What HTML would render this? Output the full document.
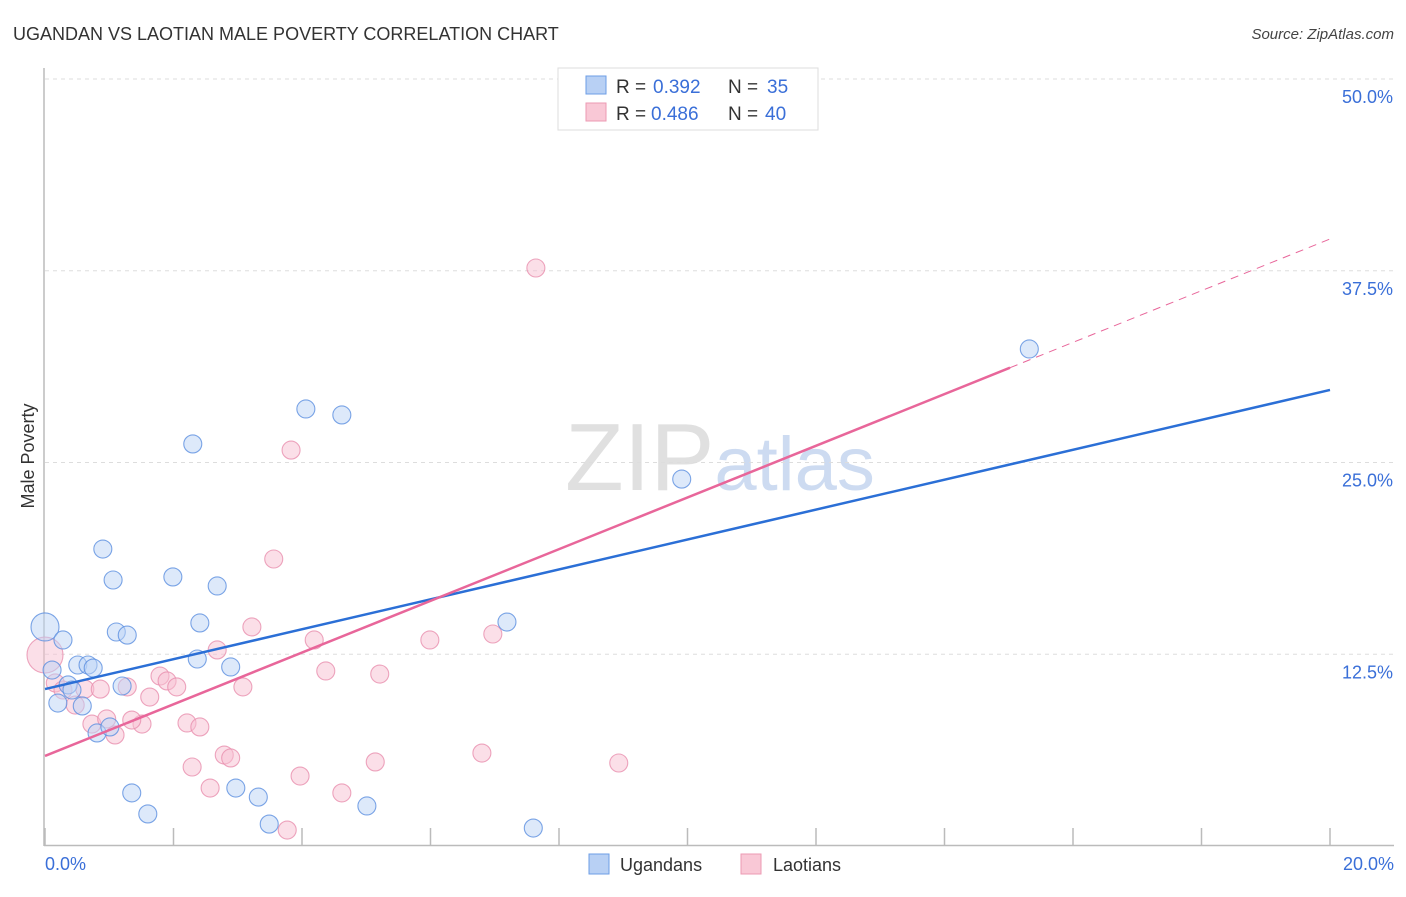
<!DOCTYPE html>
<html><head><meta charset="utf-8">
<style>
body{margin:0;background:#fff;font-family:"Liberation Sans",sans-serif;}
svg text{font-family:"Liberation Sans",sans-serif;}
</style></head>
<body>
<svg id="chart" width="1406" height="892" viewBox="0 0 1406 892" xmlns="http://www.w3.org/2000/svg">
<text x="13" y="40" font-size="18" fill="#333">UGANDAN VS LAOTIAN MALE POVERTY CORRELATION CHART</text>
<text x="1394" y="39" font-size="15" fill="#444" text-anchor="end" font-style="italic">Source: ZipAtlas.com</text>
<text x="720" y="490" font-size="96" text-anchor="middle" fill="#ddd" font-family="Liberation Serif" opacity="0.9">ZIP<tspan fill="#c8d8f0" font-family="Liberation Sans" font-size="76">atlas</tspan></text>
<g id="grid"></g>
<g id="axes"></g>
<g id="points"></g>
<g id="trends"></g>
<text transform="translate(34,456) rotate(-90)" font-size="18" fill="#333" text-anchor="middle">Male Poverty</text>
<text x="45" y="870" font-size="18" fill="#3a6fd8">0.0%</text>
<text x="1394" y="870" font-size="18" fill="#3a6fd8" text-anchor="end">20.0%</text>
<g>
<rect x="558" y="68" width="260" height="62" fill="#fff" stroke="#ddd"/>
<rect x="586" y="76" width="20" height="18" fill="#b8d0f4" stroke="#6d9ee6"/>
<rect x="586" y="103" width="20" height="18" fill="#f9c8d6" stroke="#ec9ab3"/>
<text x="616" y="93" font-size="19" fill="#333">R =</text>
<text x="653" y="93" font-size="19" fill="#3a6fd8">0.392</text>
<text x="728" y="93" font-size="19" fill="#333">N =</text>
<text x="767" y="93" font-size="19" fill="#3a6fd8">35</text>
<text x="616" y="120" font-size="19" fill="#333">R =</text>
<text x="651" y="120" font-size="19" fill="#3a6fd8">0.486</text>
<text x="728" y="120" font-size="19" fill="#333">N =</text>
<text x="765" y="120" font-size="19" fill="#3a6fd8">40</text>
</g>
<g>
<rect x="589" y="854" width="20" height="20" fill="#b8d0f4" stroke="#6d9ee6"/>
<text x="620" y="871" font-size="18" fill="#333">Ugandans</text>
<rect x="741" y="854" width="20" height="20" fill="#f9c8d6" stroke="#ec9ab3"/>
<text x="773" y="871" font-size="18" fill="#333">Laotians</text>
</g>
</svg>
<script>
const yTicks=[12.5,25,37.5,50];
const yTickLabels=["12.5%","25.0%","37.5%","50.0%"];
const xTicks=[0,2,4,6,8,10,12,14,16,18,20];
const ugX=[0,0.11,0.28,0.51,0.67,0.75,0.36,0.42,0.20,0.58,0.81,1.01,1.20,1.11,1.28,0.90,1.06,1.99,2.41,2.68,2.37,2.89,2.30,4.06,4.62,9.91,7.19,15.32,1.35,1.60,2.97,3.32,3.49,5.01,7.60];
const ugY=[14.28,11.47,13.43,11.80,11.80,11.60,10.50,10.17,9.32,9.13,7.37,7.76,10.43,13.95,13.75,19.36,17.34,17.54,14.54,16.95,12.19,11.67,26.21,28.49,28.10,23.92,14.60,32.40,3.46,2.09,3.78,3.19,1.43,2.61,1.17];
const laX=[0,0.16,0.28,0.47,0.62,0.86,0.73,0.96,1.09,1.28,1.51,1.35,1.63,1.79,1.90,2.05,2.21,2.41,2.68,2.79,2.89,3.08,3.22,3.56,3.83,4.19,4.37,5.21,5.99,6.97,7.64,2.29,2.57,3.97,4.62,5.14,6.80,8.93,3.77,10.57];
const laY=[12.45,10.63,10.17,9.19,10.23,10.23,7.95,8.28,7.24,10.37,7.95,8.21,9.71,11.08,10.76,10.37,8.02,7.76,12.78,5.93,5.74,10.37,14.28,18.71,25.81,13.43,11.41,11.21,13.43,13.82,37.68,5.15,3.78,4.56,3.46,5.48,6.06,5.41,1.04,47.65];
const ugTrend=[10.23,29.73];
const laTrend=[5.87,39.57];
const laSolidEnd=15.02;

const X=v=>45+v*64.25, Y=v=>846-v*15.34;
const NS="http://www.w3.org/2000/svg";
function mk(tag,attrs,parent){const e=document.createElementNS(NS,tag);for(const k in attrs)e.setAttribute(k,attrs[k]);document.getElementById(parent).appendChild(e);return e;}
yTicks.forEach((t,i)=>{
  const l=mk('line',{x1:45,x2:1394,y1:Y(t),y2:Y(t),stroke:'#ddd','stroke-dasharray':'4,4'},'grid');
  
  
  const tx=mk('text',{x:1393,y:Y(t)+24,'font-size':18,fill:'#3a6fd8','text-anchor':'end'},'grid');
  tx.textContent=yTickLabels[i];
  
  
});
const ax=mk('line',{x1:44,x2:44,y1:68,y2:846,stroke:'#bbb','stroke-width':1.5},'axes');


const bx=mk('line',{x1:44,x2:1394,y1:845.5,y2:845.5,stroke:'#bbb','stroke-width':1.5},'axes');


xTicks.forEach(t=>{
  const l=mk('line',{x1:X(t),x2:X(t),y1:828,y2:846,stroke:'#bbb','stroke-width':1.5},'axes');
  
  
});
function dots(xs,ys,fill,stroke,name){
  xs.forEach((v,i)=>{
    const r=(v===0)?(name==='ugandan-point'?14:18):9;
    const c=mk('circle',{cx:X(v),cy:Y(ys[i]),r:r,fill:fill,'fill-opacity':0.5,stroke:stroke,'stroke-width':1.1,'stroke-opacity':0.8},'points');
    
    
  });
}
dots(laX,laY,'#f7c0d1','#e98fae','laotian-point');
dots(ugX,ugY,'#bcd3f5','#5b8fe0','ugandan-point');
const ub=mk('line',{x1:X(0),y1:Y(ugTrend[0]),x2:X(20),y2:Y(ugTrend[1]),stroke:'#2b6fd6','stroke-width':2.5},'trends');


const ly=t=>laTrend[0]+(laTrend[1]-laTrend[0])*t/20;
const lp=mk('line',{x1:X(0),y1:Y(ly(0)),x2:X(laSolidEnd),y2:Y(ly(laSolidEnd)),stroke:'#e8669a','stroke-width':2.5},'trends');


const ld=mk('line',{x1:X(laSolidEnd),y1:Y(ly(laSolidEnd)),x2:X(20),y2:Y(ly(20)),stroke:'#e8669a','stroke-width':1,'stroke-dasharray':'8,6'},'trends');


</script>
</body></html>
